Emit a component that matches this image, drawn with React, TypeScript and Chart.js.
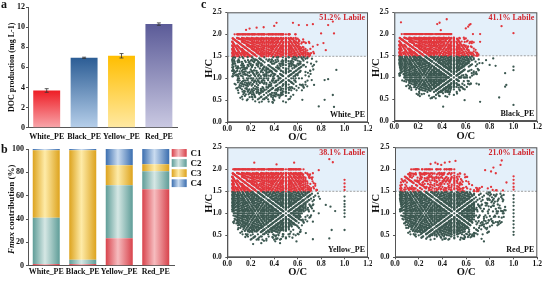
import React, { useEffect, useRef } from "react";
import { Chart, registerables } from "chart.js";

Chart.register(...registerables);

const FONT = "'Liberation Serif', 'Times New Roman', serif";

// ---- a: DOC production ----
const samples = ["White_PE", "Black_PE", "Yellow_PE", "Red_PE"];
const docProduction = [3.7, 6.95, 7.15, 10.3];
const docError = [0.18, 0.06, 0.22, 0.12];
const docTicks = [0, 2, 4, 6, 8, 10, 12];
const docTopColors = ["#ee1d25", "#2c5d95", "#ffbe00", "#5b5b98"];
const docBottomColors = ["#f8a6ab", "#b6cfea", "#ffe9a3", "#cac9e2"];

// ---- b: Fmax contribution of PARAFAC components ----
const componentNames = ["C1", "C2", "C3", "C4"];
const c1Share = [1.5, 1.5, 23.5, 65.5];
const c2Share = [39.5, 3.5, 45.5, 15.5];
const c3Share = [58, 94, 17, 6];
const c4Share = [1, 1, 14, 13];
const compEdgeColors = ["#d8434c", "#5f9d98", "#dda31e", "#3b6eaf"];
const compMidColors = ["#f6bcbf", "#d5e7e4", "#feeba8", "#cadcf0"];

// ---- c: van Krevelen diagrams ----
const labilePercent = [51.2, 41.1, 38.1, 21.0];
const labileHC = 1.5;
const carbonNumbers = [4, 24]; // smallest and largest C count of the assigned CHO formulas

// dense envelope of the assigned formulas, [O/C, H/C]
const whiteCore = [[0.02, 1.46], [0.035, 1.2], [0.08, 0.85], [0.16, 0.6], [0.28, 0.53], [0.42, 0.55], [0.52, 0.68], [0.58, 0.9], [0.64, 1.2], [0.7, 1.5], [0.66, 1.65], [0.6, 1.82], [0.53, 2.01], [0.08, 2.01], [0.05, 1.85], [0.02, 1.6]];
const blackCore = [[0.03, 1.46], [0.05, 1.15], [0.12, 0.88], [0.22, 0.7], [0.35, 0.64], [0.48, 0.7], [0.54, 0.9], [0.6, 1.2], [0.66, 1.5], [0.62, 1.7], [0.52, 1.9], [0.48, 2.01], [0.08, 2.01], [0.03, 1.7]];
const yellowCore = [[0.02, 1.46], [0.04, 1.1], [0.09, 0.75], [0.18, 0.58], [0.35, 0.56], [0.5, 0.6], [0.6, 0.8], [0.66, 1.1], [0.72, 1.5], [0.68, 1.75], [0.62, 2.01], [0.06, 2.01], [0.02, 1.7]];
const redCore = [[0.04, 1.46], [0.05, 1.1], [0.1, 0.75], [0.18, 0.55], [0.32, 0.48], [0.5, 0.48], [0.6, 0.6], [0.66, 0.8], [0.68, 1.1], [0.66, 1.45], [0.6, 1.52], [0.55, 1.75], [0.5, 2.01], [0.15, 2.01], [0.06, 1.8]];

// sparser fringe around each envelope
const whiteHalo = [[0.01, 1.5], [0.03, 1.05], [0.12, 0.5], [0.3, 0.42], [0.5, 0.45], [0.65, 0.65], [0.74, 1.1], [0.76, 1.5], [0.7, 1.85], [0.58, 2.02], [0.06, 2.02], [0.01, 1.7]];
const blackHalo = [[0.02, 1.5], [0.04, 1.0], [0.15, 0.62], [0.3, 0.5], [0.5, 0.55], [0.62, 0.75], [0.72, 1.2], [0.72, 1.5], [0.66, 1.85], [0.52, 2.02], [0.06, 2.02], [0.02, 1.75]];
const yellowHalo = [[0.01, 1.5], [0.03, 0.95], [0.08, 0.55], [0.22, 0.35], [0.45, 0.35], [0.62, 0.5], [0.72, 0.9], [0.78, 1.4], [0.76, 1.7], [0.68, 2.02], [0.04, 2.02], [0.01, 1.7]];
const redHalo = [[0.03, 1.5], [0.04, 1.0], [0.12, 0.5], [0.3, 0.4], [0.55, 0.38], [0.75, 0.5], [0.9, 0.75], [0.94, 1.1], [0.92, 1.5], [0.8, 1.56], [0.65, 1.7], [0.55, 2.02], [0.12, 2.02], [0.04, 1.8]];
const haloStride = 3;

// isolated formulas outside the envelopes
const whiteOutliers = [[0.16, 2.1], [0.19, 2.13], [0.25, 2.15], [0.31, 2.16], [0.4, 2.19], [0.42, 2.26], [0.56, 2.26], [0.61, 2.21], [0.68, 2.21], [0.73, 2.23], [0.8, 2.02], [0.86, 2.21], [0.9, 2.29], [0.61, 1.87], [0.67, 1.8], [0.73, 1.72], [0.77, 1.76], [0.82, 1.8], [0.84, 1.64], [0.91, 2.02], [0.67, 1.26], [0.72, 0.96], [0.74, 0.85], [0.64, 0.51], [0.83, 0.96], [0.86, 0.98], [0.83, 0.51], [0.78, 0.36], [0.91, 0.35], [0.9, 0.62], [0.93, 1.19], [0.76, 1.38], [0.71, 1.1]];
const blackOutliers = [[0.056, 2.27], [0.36, 2.23], [0.38, 2.26], [0.44, 2.34], [0.39, 2.09], [0.6, 2.13], [0.62, 2.17], [0.63, 2.21], [0.64, 2.23], [0.9, 2.18], [1.0, 2.02], [0.72, 2.0], [0.66, 2.0], [0.72, 1.82], [0.65, 1.79], [0.62, 1.63], [0.66, 1.55], [0.83, 1.44], [0.74, 1.33], [0.8, 1.29], [0.85, 1.27], [0.93, 1.1], [1.0, 1.25], [1.0, 1.17], [0.94, 0.83], [0.93, 0.79], [0.88, 0.54], [0.72, 0.44], [1.0, 0.37], [0.64, 0.86], [0.69, 0.86], [0.71, 0.84], [0.41, 0.33], [0.59, 0.48], [0.77, 1.4]];
const yellowOutliers = [[0.23, 2.15], [0.42, 2.11], [0.57, 2.15], [0.78, 1.98], [0.87, 2.23], [0.9, 2.16], [0.73, 1.91], [0.7, 1.85], [0.76, 1.53], [1.0, 1.76], [1.0, 1.68], [1.0, 1.6], [1.0, 1.53], [0.7, 1.3], [0.78, 1.38], [0.79, 1.33], [0.84, 1.19], [0.88, 1.15], [0.78, 1.0], [0.73, 0.81], [0.67, 0.55], [0.73, 0.41], [0.59, 0.36], [0.45, 0.32], [0.29, 0.32], [0.22, 0.3], [0.89, 0.62], [0.87, 0.43], [0.92, 1.05], [1.0, 1.38], [1.0, 1.28], [1.0, 1.21], [1.0, 1.15], [1.0, 1.07], [1.0, 1.0], [1.0, 0.92], [1.0, 0.62]];
const redOutliers = [[0.3, 2.12], [0.34, 2.15], [0.36, 2.12], [0.39, 2.1], [0.42, 2.15], [0.46, 2.17], [0.51, 2.19], [0.76, 1.98], [0.81, 1.95], [0.85, 1.91], [0.89, 2.1], [0.9, 2.2], [0.83, 2.04], [0.6, 1.83], [0.65, 1.64], [0.7, 1.52], [0.81, 1.6], [0.94, 1.7], [0.91, 1.52], [0.85, 1.52], [1.0, 1.84], [1.0, 1.76], [1.0, 1.68], [1.0, 1.6], [1.0, 1.54], [1.0, 1.41], [1.0, 1.33], [1.0, 1.25], [1.0, 1.17], [1.0, 1.08], [1.0, 1.0], [1.0, 0.92], [1.0, 0.83], [1.0, 0.75], [1.0, 0.67], [1.0, 0.58], [1.0, 0.51], [0.75, 0.36], [0.73, 0.42]];

const sampleCores = [whiteCore, blackCore, yellowCore, redCore];
const sampleHalos = [whiteHalo, blackHalo, yellowHalo, redHalo];
const sampleOutliers = [whiteOutliers, blackOutliers, yellowOutliers, redOutliers];

const LABILE_COLOR = "#e2363c";
const RECALC_COLOR = "#3c5851";

type Pt = number[];

// O/C and H/C of every CcHhOo formula (even H) in the carbon range
function formulaRatios(): Pt[] {
  const seen = new Set<string>();
  const out: Pt[] = [];
  for (let c = carbonNumbers[0]; c <= carbonNumbers[1]; c++) {
    for (let o = 0; o <= c; o++) {
      for (let h = 2; h <= 2 * c + 2; h += 2) {
        const x = o / c;
        const y = h / c;
        const key = Math.round(x * 1e5) + "," + Math.round(y * 1e5);
        if (!seen.has(key)) {
          seen.add(key);
          out.push([x, y]);
        }
      }
    }
  }
  return out;
}

function inside(p: Pt, poly: Pt[]) {
  let c = false;
  for (let i = 0, j = poly.length - 1; i < poly.length; j = i++) {
    const [xi, yi] = poly[i];
    const [xj, yj] = poly[j];
    if ((yi > p[1]) !== (yj > p[1]) && p[0] < ((xj - xi) * (p[1] - yi)) / (yj - yi) + xi) c = !c;
  }
  return c;
}

function pick(list: Pt[], n: number): Pt[] {
  if (n >= list.length) return list;
  const out: Pt[] = [];
  for (let k = 0; k < n; k++) out.push(list[Math.floor((k * list.length) / n)]);
  return out;
}

// formulas of one sample, split into labile (H/C >= 1.5) and recalcitrant,
// with the labile share held at the stated percentage
function sampleFormulas(i: number, ratios: Pt[]) {
  const found = ratios.filter((p, k) => inside(p, sampleCores[i]) || (inside(p, sampleHalos[i]) && k % haloStride === 0));
  const lab = found.filter((p) => p[1] >= labileHC);
  const rec = found.filter((p) => p[1] < labileHC);
  const oLab = sampleOutliers[i].filter((p) => p[1] >= labileHC);
  const oRec = sampleOutliers[i].filter((p) => p[1] < labileHC);
  const share = labilePercent[i] / 100;
  let keepLab = lab;
  let keepRec = rec;
  const needLab = Math.round((share * (rec.length + oRec.length)) / (1 - share)) - oLab.length;
  if (needLab <= lab.length) keepLab = pick(lab, Math.max(0, needLab));
  else {
    const needRec = Math.round(((lab.length + oLab.length) * (1 - share)) / share) - oRec.length;
    keepRec = pick(rec, Math.max(0, needRec));
  }
  return { labile: keepLab.concat(oLab), recalcitrant: keepRec.concat(oRec) };
}

const tickFont = (size: number) => ({ family: FONT, size, weight: "bold" as const });
const AXIS = "#555";

function fixedAxis(width?: number, height?: number) {
  return (s: any) => {
    if (width !== undefined) s.width = width;
    if (height !== undefined) s.height = height;
    s.paddingLeft = 0;
    s.paddingRight = 0;
    s.paddingTop = 0;
    s.paddingBottom = 0;
  };
}

function rotatedText(ctx: CanvasRenderingContext2D, parts: { t: string; f: string }[], x: number, y: number) {
  ctx.save();
  ctx.translate(x, y);
  ctx.rotate(-Math.PI / 2);
  let total = 0;
  parts.forEach((p) => {
    ctx.font = p.f;
    total += ctx.measureText(p.t).width;
  });
  let cx = -total / 2;
  ctx.textBaseline = "middle";
  ctx.textAlign = "left";
  parts.forEach((p) => {
    ctx.font = p.f;
    ctx.fillText(p.t, cx, 0);
    cx += ctx.measureText(p.t).width;
  });
  ctx.restore();
}

function docChart(canvas: HTMLCanvasElement) {
  return new Chart(canvas, {
    type: "bar",
    data: {
      labels: samples,
      datasets: [
        {
          data: docProduction,
          barPercentage: 0.72,
          categoryPercentage: 1,
          backgroundColor: (ctx: any) => {
            const chart = ctx.chart;
            const i = ctx.dataIndex;
            if (!chart.chartArea || !chart.scales.y) return docTopColors[i];
            const top = chart.scales.y.getPixelForValue(docProduction[i]);
            const g = chart.ctx.createLinearGradient(0, top, 0, chart.chartArea.bottom);
            g.addColorStop(0, docTopColors[i]);
            g.addColorStop(1, docBottomColors[i]);
            return g;
          },
        },
      ],
    },
    options: {
      responsive: false,
      animation: false,
      layout: { padding: { left: 0, top: 7, right: 12.4, bottom: 0 } },
      plugins: { legend: { display: false }, tooltip: { enabled: false } },
      scales: {
        x: {
          afterFit: fixedAxis(undefined, 12.3),
          grid: { display: false, drawTicks: false },
          border: { display: true, color: AXIS, width: 1 },
          ticks: { font: tickFont(8), color: "#111", padding: 4, maxRotation: 0, autoSkip: false },
        },
        y: {
          min: 0,
          max: 12,
          afterFit: fixedAxis(28),
          afterBuildTicks: (s: any) => {
            s.ticks = docTicks.map((v) => ({ value: v }));
          },
          grid: { display: true, drawOnChartArea: false, drawTicks: true, tickLength: 2, color: AXIS },
          border: { display: true, color: AXIS, width: 1 },
          ticks: { font: tickFont(8), color: "#111", padding: 1 },
        },
      },
    },
    plugins: [
      {
        id: "docExtras",
        afterDatasetsDraw(chart: any) {
          const { ctx, scales } = chart;
          ctx.save();
          ctx.strokeStyle = "#333";
          ctx.lineWidth = 0.8;
          docProduction.forEach((v, i) => {
            const x = scales.x.getPixelForValue(i);
            const y1 = scales.y.getPixelForValue(v + docError[i]);
            const y2 = scales.y.getPixelForValue(v - docError[i]);
            ctx.beginPath();
            ctx.moveTo(x, y1);
            ctx.lineTo(x, y2);
            ctx.moveTo(x - 2, y1);
            ctx.lineTo(x + 2, y1);
            ctx.moveTo(x - 2, y2);
            ctx.lineTo(x + 2, y2);
            ctx.stroke();
          });
          ctx.restore();
        },
        afterDraw(chart: any) {
          const { ctx, chartArea } = chart;
          ctx.save();
          ctx.fillStyle = "#111";
          ctx.font = `bold 12px ${FONT}`;
          ctx.textBaseline = "alphabetic";
          ctx.fillText("a", 1, 8);
          rotatedText(ctx, [{ t: "DOC production (mg L-1)", f: `bold 8px ${FONT}` }], 11.5, (chartArea.top + chartArea.bottom) / 2);
          ctx.restore();
        },
      },
    ],
  } as any);
}

function fmaxChart(canvas: HTMLCanvasElement) {
  const shares = [c1Share, c2Share, c3Share, c4Share];
  const cylinder = (ctx: CanvasRenderingContext2D, left: number, right: number, k: number) => {
    const g = ctx.createLinearGradient(left, 0, right, 0);
    g.addColorStop(0, compEdgeColors[k]);
    g.addColorStop(0.45, compMidColors[k]);
    g.addColorStop(1, compEdgeColors[k]);
    return g;
  };
  return new Chart(canvas, {
    type: "bar",
    data: {
      labels: samples,
      datasets: shares.map((d, k) => ({
        label: componentNames[k],
        data: d,
        barPercentage: 0.74,
        categoryPercentage: 1,
        backgroundColor: (ctx: any) => {
          const chart = ctx.chart;
          const xs = chart.scales.x;
          if (!chart.chartArea || !xs) return compEdgeColors[k];
          const cx = xs.getPixelForValue(ctx.dataIndex);
          const half = (xs.width / samples.length) * 0.74 * 0.5;
          return cylinder(chart.ctx, cx - half, cx + half, k);
        },
      })),
    },
    options: {
      responsive: false,
      animation: false,
      layout: { padding: { left: 0, top: 9, right: 31, bottom: 0 } },
      plugins: { legend: { display: false }, tooltip: { enabled: false } },
      scales: {
        x: {
          stacked: true,
          afterFit: fixedAxis(undefined, 15.3),
          grid: { display: false, drawTicks: false },
          border: { display: true, color: AXIS, width: 1 },
          ticks: { font: tickFont(8), color: "#111", padding: 1, maxRotation: 0, autoSkip: false },
        },
        y: {
          stacked: true,
          min: 0,
          max: 100,
          afterFit: fixedAxis(28),
          ticks: { stepSize: 20, font: tickFont(8), color: "#111", padding: 2 },
          grid: { display: true, drawOnChartArea: false, drawTicks: true, tickLength: 2, color: AXIS },
          border: { display: true, color: AXIS, width: 1 },
        },
      },
    },
    plugins: [
      {
        id: "fmaxExtras",
        afterDraw(chart: any) {
          const { ctx, chartArea } = chart;
          ctx.save();
          ctx.fillStyle = "#111";
          ctx.font = `bold 12px ${FONT}`;
          ctx.fillText("b", 1, 13);
          rotatedText(
            ctx,
            [
              { t: "Fmax", f: `italic bold 9px ${FONT}` },
              { t: " contribution (%)", f: `bold 9px ${FONT}` },
            ],
            12,
            (chartArea.top + chartArea.bottom) / 2 + 2
          );
          // legend
          componentNames.forEach((name, k) => {
            const top = 9 + k * 10.1;
            ctx.fillStyle = cylinder(ctx, 171.7, 186.7, k);
            ctx.fillRect(171.7, top, 15, 7.8);
            ctx.fillStyle = "#111";
            ctx.font = `bold 9px ${FONT}`;
            ctx.textBaseline = "middle";
            ctx.fillText(name, 190.5, top + 4.2);
          });
          ctx.restore();
        },
      },
    ],
  } as any);
}

function vkChart(canvas: HTMLCanvasElement, i: number, ratios: Pt[], box: { pl: number; pt: number; pr: number; xh: number; letter?: boolean }) {
  const pts = sampleFormulas(i, ratios);
  const toXY = (p: Pt) => ({ x: p[0], y: p[1] });
  return new Chart(canvas, {
    type: "scatter",
    data: {
      datasets: [
        { label: "Recalcitrant", data: pts.recalcitrant.map(toXY), backgroundColor: RECALC_COLOR, pointRadius: 1.15, borderWidth: 0 },
        { label: "Labile", data: pts.labile.map(toXY), backgroundColor: LABILE_COLOR, pointRadius: 1.15, borderWidth: 0 },
      ],
    },
    options: {
      responsive: false,
      animation: false,
      layout: { padding: { left: 0, top: box.pt, right: box.pr, bottom: 0 } },
      plugins: { legend: { display: false }, tooltip: { enabled: false } },
      scales: {
        x: {
          type: "linear",
          min: 0,
          max: 1.2,
          afterFit: fixedAxis(undefined, box.xh),
          ticks: { stepSize: 0.2, font: tickFont(7.5), color: "#111", padding: 0, maxRotation: 0, autoSkip: false, callback: (v: any) => Number(v).toFixed(1) },
          grid: { display: true, drawOnChartArea: false, drawTicks: true, tickLength: 2, color: AXIS },
          border: { display: true, color: AXIS, width: 1 },
        },
        y: {
          type: "linear",
          min: 0,
          max: 2.5,
          afterFit: fixedAxis(box.pl),
          ticks: { stepSize: 0.5, font: tickFont(7.5), color: "#111", padding: 3.5, autoSkip: false, callback: (v: any) => Number(v).toFixed(1) },
          grid: { display: true, drawOnChartArea: false, drawTicks: true, tickLength: 2, color: AXIS },
          border: { display: true, color: AXIS, width: 1 },
        },
      },
    },
    plugins: [
      {
        id: "labileZone",
        beforeDatasetsDraw(chart: any) {
          const { ctx, chartArea: a, scales } = chart;
          const y = scales.y.getPixelForValue(labileHC);
          ctx.save();
          ctx.fillStyle = "#e4f0fa";
          ctx.fillRect(a.left, a.top, a.right - a.left, y - a.top);
          ctx.strokeStyle = "#8a8a8a";
          ctx.lineWidth = 0.8;
          ctx.setLineDash([2, 1.5]);
          ctx.beginPath();
          ctx.moveTo(a.left, y);
          ctx.lineTo(a.right, y);
          ctx.stroke();
          ctx.restore();
        },
        afterDraw(chart: any) {
          const { ctx, chartArea: a } = chart;
          ctx.save();
          ctx.strokeStyle = AXIS;
          ctx.lineWidth = 1;
          ctx.strokeRect(a.left + 0.5, a.top + 0.5, a.right - a.left - 1, a.bottom - a.top - 1);
          ctx.textAlign = "right";
          ctx.textBaseline = "middle";
          ctx.font = `bold 8px ${FONT}`;
          ctx.fillStyle = "#cf252c";
          ctx.fillText(`${labilePercent[i].toFixed(1)}% Labile`, a.right - 3, a.top + 5.5);
          ctx.fillStyle = "#111";
          ctx.fillText(samples[i], a.right - 3, a.bottom - 7.5);
          ctx.font = `bold 10.5px ${FONT}`;
          ctx.textAlign = "center";
          ctx.fillText("O/C", (a.left + a.right) / 2, a.bottom + 15);
          rotatedText(ctx, [{ t: "H/C", f: `bold 10.5px ${FONT}` }], a.left - 18.5, (a.top + a.bottom) / 2 + 1);
          if (box.letter) {
            ctx.textAlign = "left";
            ctx.textBaseline = "alphabetic";
            ctx.font = `bold 12px ${FONT}`;
            ctx.fillText("c", 1, 8);
          }
          ctx.restore();
        },
      },
    ],
  } as any);
}

export default function App() {
  const aRef = useRef<HTMLCanvasElement>(null);
  const bRef = useRef<HTMLCanvasElement>(null);
  const c0 = useRef<HTMLCanvasElement>(null);
  const c1 = useRef<HTMLCanvasElement>(null);
  const c2 = useRef<HTMLCanvasElement>(null);
  const c3 = useRef<HTMLCanvasElement>(null);

  useEffect(() => {
    document.body.style.margin = "0";
    const ratios = formulaRatios();
    const charts = [
      docChart(aRef.current!),
      fmaxChart(bRef.current!),
      vkChart(c0.current!, 0, ratios, { pl: 27.3, pt: 12.3, pr: 2.7, xh: 17.7, letter: true }),
      vkChart(c1.current!, 1, ratios, { pl: 26.3, pt: 12.3, pr: 8.7, xh: 19 }),
      vkChart(c2.current!, 2, ratios, { pl: 27.3, pt: 11.3, pr: 2.7, xh: 23.7 }),
      vkChart(c3.current!, 3, ratios, { pl: 27, pt: 11.3, pr: 8.7, xh: 23.7 }),
    ];
    return () => charts.forEach((c) => c.destroy());
  }, []);

  const pos = (left: number, top: number, w: number, h: number): React.CSSProperties => ({ position: "absolute", left, top, width: w, height: h });

  return (
    <div style={{ position: "relative", width: 546, height: 281, background: "#fff", overflow: "hidden" }}>
      <canvas ref={aRef} width={190} height={140} style={pos(0, 0, 190, 140)} />
      <canvas ref={bRef} width={205} height={141} style={pos(0, 140, 205, 141)} />
      <canvas ref={c0} width={172} height={140} style={pos(200, 0, 172, 140)} />
      <canvas ref={c1} width={178} height={140} style={pos(368, 0, 178, 140)} />
      <canvas ref={c2} width={172} height={145} style={pos(200, 136, 172, 145)} />
      <canvas ref={c3} width={178} height={145} style={pos(368, 136, 178, 145)} />
    </div>
  );
}
